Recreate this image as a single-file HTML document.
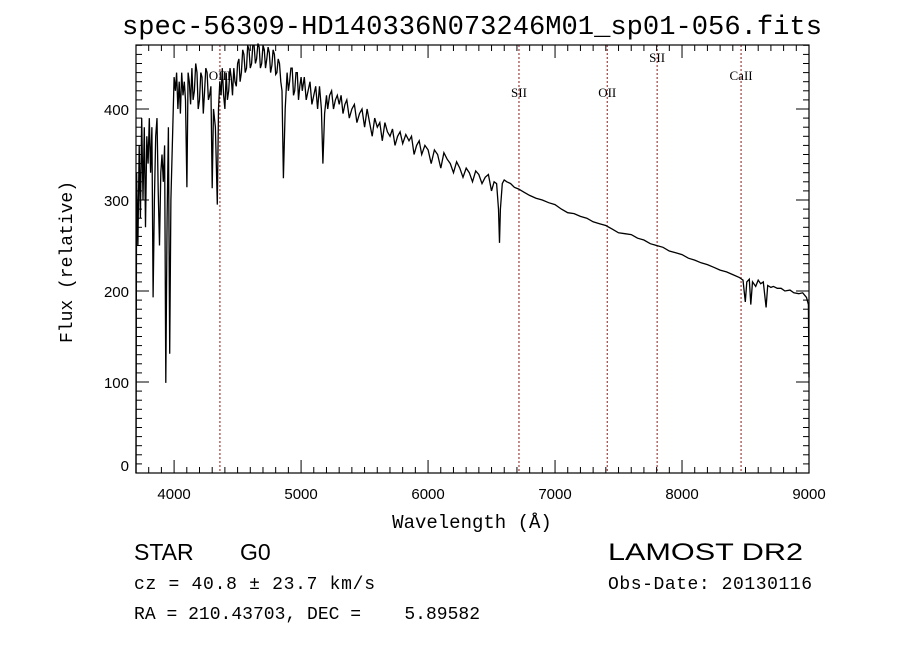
<!DOCTYPE html>
<html><head><meta charset="utf-8"><style>
body{margin:0;background:#fff;}
svg{display:block;}
text{fill:#000;}
</style></head><body>
<svg id="chart" width="900" height="649" xmlns="http://www.w3.org/2000/svg">
<rect width="900" height="649" fill="#fff"/>
<text x="122" y="34" font-family="Liberation Mono, monospace" font-size="27" textLength="700" lengthAdjust="spacingAndGlyphs">spec-56309-HD140336N073246M01_sp01-056.fits</text>
<text x="472" y="528" text-anchor="middle" font-family="Liberation Mono, monospace" font-size="19">Wavelength (Å)</text>
<text transform="translate(72,262) rotate(-90)" text-anchor="middle" font-family="Liberation Mono, monospace" font-size="18">Flux (relative)</text>
<text x="134" y="560" font-family="Liberation Sans, sans-serif" font-size="23">STAR</text>
<text x="240" y="560" font-family="Liberation Sans, sans-serif" font-size="23">G0</text>
<text x="608" y="560" font-family="Liberation Sans, sans-serif" font-size="24" textLength="195" lengthAdjust="spacingAndGlyphs">LAMOST DR2</text>
<text x="134" y="589" font-family="Liberation Mono, monospace" font-size="18" textLength="241">cz = 40.8 ± 23.7 km/s</text>
<text x="608" y="589" font-family="Liberation Mono, monospace" font-size="18" textLength="204">Obs-Date: 20130116</text>
<text x="134" y="619" font-family="Liberation Mono, monospace" font-size="18" xml:space="preserve" textLength="346">RA = 210.43703, DEC =    5.89582</text>
<g id="plot"></g>
</svg>
<script>
const wavelengths=[3700,3705,3715,3725,3735,3745,3755,3765,3775,3785,3795,3805,3815,3825,3835,3845,3855,3865,3875,3885,3895,3905,3915,3925,3935,3945,3955,3965,3975,3990,4000,4010,4020,4030,4040,4050,4060,4070,4080,4090,4101,4110,4120,4130,4140,4150,4160,4170,4180,4190,4200,4210,4220,4230,4240,4250,4260,4270,4280,4290,4300,4310,4325,4340,4350,4360,4370,4380,4390,4400,4410,4420,4430,4440,4450,4460,4470,4480,4490,4500,4510,4520,4530,4540,4550,4560,4570,4580,4590,4600,4610,4620,4630,4640,4650,4660,4670,4680,4690,4700,4710,4720,4730,4740,4750,4760,4770,4780,4790,4800,4810,4820,4830,4840,4850,4861,4875,4890,4900,4910,4920,4930,4940,4950,4960,4970,4980,4990,5000,5010,5025,5040,5055,5070,5085,5100,5115,5130,5145,5160,5172,5185,5200,5210,5225,5240,5255,5270,5285,5300,5315,5330,5345,5360,5380,5400,5420,5440,5460,5480,5500,5520,5540,5560,5580,5600,5620,5640,5660,5680,5700,5720,5740,5760,5780,5800,5825,5850,5870,5890,5910,5930,5950,5975,6000,6025,6050,6075,6100,6125,6150,6175,6200,6225,6250,6275,6300,6325,6350,6375,6400,6425,6450,6475,6500,6520,6540,6555,6563,6570,6585,6600,6620,6650,6680,6715,6750,6800,6850,6900,6950,7000,7050,7100,7150,7200,7250,7300,7350,7400,7450,7500,7550,7600,7650,7700,7750,7800,7850,7900,7950,8000,8050,8100,8150,8200,8250,8300,8350,8400,8450,8480,8498,8510,8530,8542,8555,8580,8600,8620,8640,8662,8675,8700,8720,8750,8780,8810,8850,8880,8920,8950,8980,8990,8995,9000];
const fluxes=[0,330,250,360,280,390,300,380,270,370,340,390,330,380,193,300,370,390,310,250,330,350,320,360,99,280,380,131,300,380,435,420,440,400,430,395,440,415,430,410,314,440,430,405,445,410,420,450,440,400,410,440,435,395,420,445,440,410,415,425,313,400,380,295,400,430,415,445,415,400,440,410,420,445,435,415,445,430,425,450,455,430,440,465,460,440,445,470,465,445,450,470,470,450,455,472,468,445,450,470,465,445,455,468,462,440,448,465,460,438,440,455,450,430,420,324,400,440,420,430,445,445,415,420,440,440,410,425,435,420,435,410,420,430,405,415,425,400,425,400,340,395,415,400,415,420,400,410,415,405,415,395,405,410,390,400,405,385,395,400,380,400,385,370,390,380,385,365,385,375,370,378,360,370,375,362,372,365,370,350,360,365,350,360,355,340,355,350,335,352,345,340,330,342,335,325,335,330,320,332,328,318,325,328,310,320,318,290,253,290,318,322,320,318,314,312,309,305,302,300,297,295,290,286,285,282,280,276,274,272,268,264,263,262,258,256,252,250,248,244,242,240,236,234,231,229,226,223,221,218,215,212,188,210,213,185,210,205,212,208,210,182,206,204,205,203,203,200,201,198,197,198,193,188,185,105];
const xTicks=[4000,5000,6000,7000,8000,9000];
const yTicks=[0,100,200,300,400];
const lineWaves=[4361,6716,7411,7804,8465];
const lineNames=["OIII","SII","OII","SII","CaII"];
const lineLabelY=[80,97,97,62,80];

const L=136,R=809,T=45,B=473,XMIN=3700,XMAX=9000;
const x=w=>L+(w-XMIN)*(R-L)/(XMAX-XMIN);
const y=v=>B-v*0.91;
const NS="http://www.w3.org/2000/svg";
const g=document.getElementById('plot');
function mk(tag,attrs,parent){const e=document.createElementNS(NS,tag);for(const k in attrs)e.setAttribute(k,attrs[k]);(parent||g).appendChild(e);return e;}

lineWaves.forEach((w,i)=>{
  const ln=mk('line',{x1:x(w),x2:x(w),y1:T,y2:B,stroke:'#8b1a1a','stroke-width':1,'stroke-dasharray':'2,2'});
  
  
  const t=mk('text',{x:x(w),y:lineLabelY[i],'text-anchor':'middle','font-family':'Liberation Serif, serif','font-size':13});
  t.textContent=lineNames[i];
  
  
});

let d='';
wavelengths.forEach((w,i)=>{d+=(i?'L':'M')+x(w).toFixed(1)+','+y(Math.max(fluxes[i],-8)).toFixed(1);});
const p=mk('path',{d:d,fill:'none',stroke:'#000','stroke-width':1.3,'stroke-linejoin':'miter'});



const fr=mk('rect',{x:L,y:T,width:R-L,height:B-T,fill:'none',stroke:'#000','stroke-width':1.2});



for(let w=3700;w<=9000;w+=100){
  const maj=w%1000===0,len=maj?13:6;
  mk('line',{x1:x(w),x2:x(w),y1:B,y2:B-len,stroke:'#000'});
  mk('line',{x1:x(w),x2:x(w),y1:T,y2:T+len,stroke:'#000'});
}
xTicks.forEach(w=>{
  const t=mk('text',{x:x(w),y:B+26,'text-anchor':'middle','font-family':'Liberation Sans, sans-serif','font-size':15});
  t.textContent=w;
  
  
});
for(let v=0;v<=470;v+=10){
  const maj=v%100===0,len=maj?13:6;
  mk('line',{x1:L,x2:L+len,y1:y(v),y2:y(v),stroke:'#000'});
  mk('line',{x1:R,x2:R-len,y1:y(v),y2:y(v),stroke:'#000'});
}
yTicks.forEach(v=>{
  const t=mk('text',{x:L-7,y:(v===0?y(v)-2:y(v)+6),'text-anchor':'end','font-family':'Liberation Sans, sans-serif','font-size':15});
  t.textContent=v;
  
  
});
</script>
</body></html>
